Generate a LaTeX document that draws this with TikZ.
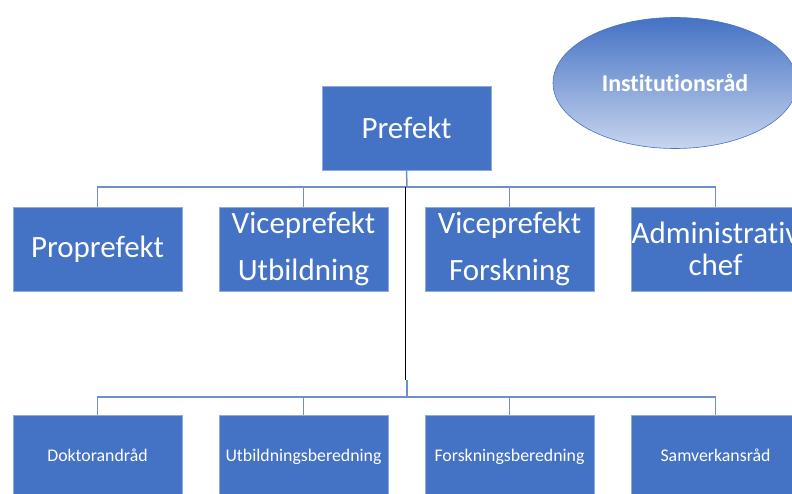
\documentclass[tikz,border=0pt]{standalone}
\usepackage{fontspec}
\setmainfont[Ligatures=NoCommon]{Carlito}
\usetikzlibrary{shapes.geometric}
\definecolor{boxblue}{HTML}{4472C4}
\definecolor{boxedge}{HTML}{8FAADC}
\definecolor{linkblue}{HTML}{6F8FCB}
\definecolor{paleblue}{HTML}{C8D5EE}
\begin{document}
\begin{tikzpicture}[x=1pt,y=-1pt,
  unit/.style={rectangle, draw=boxedge, line width=0.8pt, fill=boxblue, text=white,
    minimum width=169pt, minimum height=84pt, inner sep=0pt, align=center},
  big/.style={unit, font=\fontsize{31}{37}\selectfont},
  small/.style={unit, font=\fontsize{17.8}{21}\selectfont, text height=12.5pt, text depth=3.5pt},
  link/.style={draw=linkblue, line width=1.5pt}]
  \useasboundingbox (0,0) rectangle (792,494);
  \clip (0,0) rectangle (792,494);
  % Define nodes
  \node[ellipse, draw=boxblue, line width=0.6pt, top color=boxblue, bottom color=paleblue,
    minimum width=244pt, minimum height=131pt, text=white,
    font=\fontsize{24}{28}\selectfont\bfseries] (rad) at (675,83) {Institutionsråd};
  \node[big] (pre) at (406.5,128) {Prefekt};
  \node[big] (pro) at (97.5,249) {Proprefekt};
  \node[big, font=\fontsize{31}{47}\selectfont] (vut) at (303.5,249) {Viceprefekt\\Utbildning};
  \node[big, font=\fontsize{31}{47}\selectfont] (vfo) at (509.5,249) {Viceprefekt\\Forskning};
  \node[big, font=\fontsize{31}{32}\selectfont] (adm) at (715.5,249) {Administrativ\\chef};
  \node[small] (dok) at (97.5,457) {Doktorandråd};
  \node[small] (utb) at (303.5,457) {Utbildningsberedning};
  \node[small] (fob) at (509.5,457) {Forskningsberedning};
  \node[small] (sam) at (715.5,457) {Samverkansråd};
  \coordinate (top) at (407,187);
  \coordinate (mid) at (405,187);
  \coordinate (drop) at (405,380);
  \coordinate (join) at (407,380);
  \coordinate (low) at (407,397);

  % Draw connectors
  \draw[link] (pre.south) -- (top);
  \draw[link] (top) -| (pro.north);
  \draw[link] (top) -| (vut.north);
  \draw[link] (top) -| (vfo.north);
  \draw[link] (top) -| (adm.north);
  \draw[line width=1pt] (mid) -- (drop);
  \draw[link] (join) -- (low);
  \draw[link] (low) -| (dok.north);
  \draw[link] (low) -| (utb.north);
  \draw[link] (low) -| (fob.north);
  \draw[link] (low) -| (sam.north);
\end{tikzpicture}
\end{document}
